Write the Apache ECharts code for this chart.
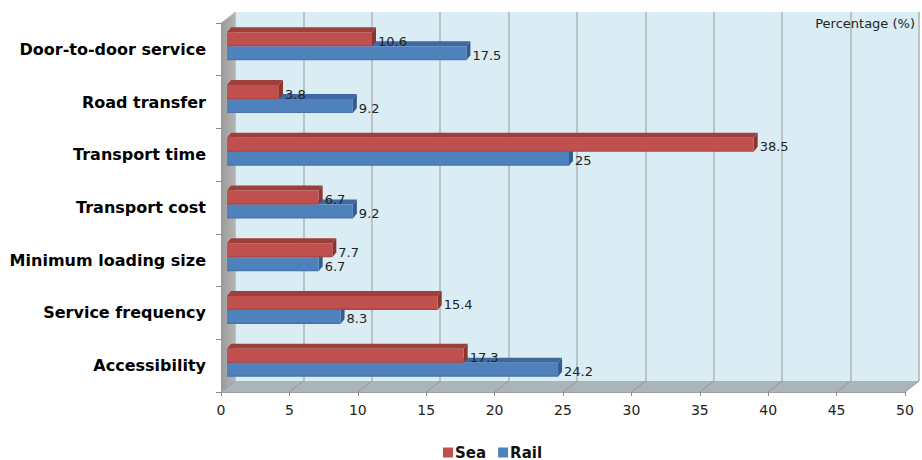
<!DOCTYPE html>
<html>
<head>
<meta charset="utf-8">
<script src="https://cdn.jsdelivr.net/npm/echarts@6/dist/echarts.min.js"></script>
<style>html,body{margin:0;padding:0;background:#fff;}#c{width:922px;height:460px;}</style>
</head>
<body>
<div id="c"></div>
<script>
const categories = ['Door-to-door service','Road transfer','Transport time','Transport cost','Minimum loading size','Service frequency','Accessibility'];
const seaValues = [10.6, 3.8, 38.5, 6.7, 7.7, 15.4, 17.3];
const railValues = [17.5, 9.2, 25, 9.2, 6.7, 8.3, 24.2];
const xMin = 0, xMax = 50, xInterval = 5;
const xTicks = [0,5,10,15,20,25,30,35,40,45,50];

const FONT = 'DejaVu Sans';
const DEPTH_X = 14, DEPTH_Y = -11;   // back wall offset
const BAR_DX = 6;                    // bar depth position shift
const BD_X = 4, BD_Y = -5;           // bar 3D thickness

function barRenderer(kind) {
  const front = kind === 'sea' ? '#c0504d' : '#4f81bd';
  const topC = kind === 'sea' ? '#9f3f3c' : '#3d68a1';
  const sideC = kind === 'sea' ? '#8c3431' : '#335c8f';
  return function (params, api) {
    const v = api.value(0), c = api.value(1);
    const p = api.coord([v, c]);
    const p0 = api.coord([0, c]);
    const cy = p[1];
    const top = kind === 'sea' ? cy - 17 : cy - 3;
    const bottom = kind === 'sea' ? cy - 3 : cy + 11;
    const x0 = p0[0] + BAR_DX, x1 = p[0] + BAR_DX;
    return {
      type: 'group',
      children: [
        { type: 'polygon', shape: { points: [[x0, top], [x0 + BD_X, top + BD_Y], [x1 + BD_X, top + BD_Y], [x1, top]] }, style: { fill: topC } },
        { type: 'polygon', shape: { points: [[x1, top], [x1 + BD_X, top + BD_Y], [x1 + BD_X, bottom + BD_Y], [x1, bottom]] }, style: { fill: sideC } },
        { type: 'rect', shape: { x: x0, y: top, width: x1 - x0, height: bottom - top }, style: {
            fill: new echarts.graphic.LinearGradient(0, 0, 0, 1, [
              { offset: 0, color: front }, { offset: 0.85, color: front }, { offset: 1, color: kind === 'sea' ? '#a8433f' : '#4470a6' }
            ]) } },
        { type: 'text', x: x1 + BD_X + 2, y: (top + bottom) / 2 + 2, style: { text: String(v), fill: '#222', font: '13px "' + FONT + '"', verticalAlign: 'middle', align: 'left' } }
      ]
    };
  };
}

function wallRenderer(params, api) {
  const cs = params.coordSys;
  const x = cs.x, y = cs.y, w = cs.width, h = cs.height;
  const children = [];
  children.push({ type: 'polygon', shape: { points: [[x, y], [x + DEPTH_X, y + DEPTH_Y], [x + DEPTH_X, y + h + DEPTH_Y], [x, y + h]] },
    style: { fill: new echarts.graphic.LinearGradient(0, 0, 1, 0, [{ offset: 0, color: '#9a9a9a' }, { offset: 1, color: '#b4b4b4' }]) } });
  children.push({ type: 'polygon', shape: { points: [[x, y + h], [x + DEPTH_X, y + h + DEPTH_Y], [x + w + DEPTH_X, y + h + DEPTH_Y], [x + w, y + h]] },
    style: { fill: '#aab5b9' } });
  xTicks.forEach(function (t) {
    const px = api.coord([t, 0])[0];
    children.push({ type: 'line', shape: { x1: px, y1: y + h, x2: px + DEPTH_X, y2: y + h + DEPTH_Y }, style: { stroke: '#8f999d', lineWidth: 1 } });
  });
  return { type: 'group', children: children };
}

const chart = echarts.init(document.getElementById('c'), null, { renderer: 'svg' });
chart.setOption({
  animation: false,
  backgroundColor: '#ffffff',
  title: { text: 'Percentage (%)', right: 2, top: 12, textStyle: { fontFamily: FONT, fontSize: 13, fontWeight: 'normal', color: '#222' } },
  legend: {
    data: ['Sea', 'Rail'], left: 438, top: 440, icon: 'rect', itemWidth: 10, itemHeight: 10, itemGap: 12,
    textStyle: { fontFamily: FONT, fontSize: 15, fontWeight: 'bold', color: '#111', padding: [0, 0, 0, -3] }
  },
  grid: [
    { left: 221, right: 17, top: 23, bottom: 68 },
    { left: 235, right: 3, top: 12, bottom: 79, show: true, backgroundColor: '#dbedf4', borderWidth: 0 }
  ],
  xAxis: [
    { type: 'value', gridIndex: 0, min: xMin, max: xMax, interval: xInterval,
      axisLine: { show: true, lineStyle: { color: '#a0a0a0' } },
      axisTick: { show: true, length: 4, lineStyle: { color: '#888' } },
      splitLine: { show: false },
      axisLabel: { fontFamily: FONT, fontSize: 14, color: '#222', margin: 11 } },
    { type: 'value', gridIndex: 1, min: xMin, max: xMax, interval: xInterval,
      axisLine: { show: false }, axisTick: { show: false }, axisLabel: { show: false },
      splitLine: { show: true, lineStyle: { color: '#bcc3c6', width: 2 } } }
  ],
  yAxis: [
    { type: 'category', gridIndex: 0, data: categories, inverse: true,
      axisLine: { show: true, lineStyle: { color: '#9a9a9a' } },
      axisTick: { show: true, length: 5, lineStyle: { color: '#888' } },
      axisLabel: { fontFamily: FONT, fontSize: 16, fontWeight: 'bold', color: '#000', margin: 15 } },
    { type: 'category', gridIndex: 1, data: categories, inverse: true, show: false }
  ],
  series: [
    { type: 'custom', name: 'walls', xAxisIndex: 0, yAxisIndex: 0, data: [[0, 0]], renderItem: wallRenderer, silent: true, z: 1 },
    { type: 'custom', name: 'Rail', xAxisIndex: 0, yAxisIndex: 0, itemStyle: { color: '#4f81bd' },
      encode: { x: 0, y: 1 }, data: railValues.map(function (v, i) { return [v, i]; }), renderItem: barRenderer('rail'), z: 2 },
    { type: 'custom', name: 'Sea', xAxisIndex: 0, yAxisIndex: 0, itemStyle: { color: '#c0504d' },
      encode: { x: 0, y: 1 }, data: seaValues.map(function (v, i) { return [v, i]; }), renderItem: barRenderer('sea'), z: 3 }
  ]
});
</script>
</body>
</html>
